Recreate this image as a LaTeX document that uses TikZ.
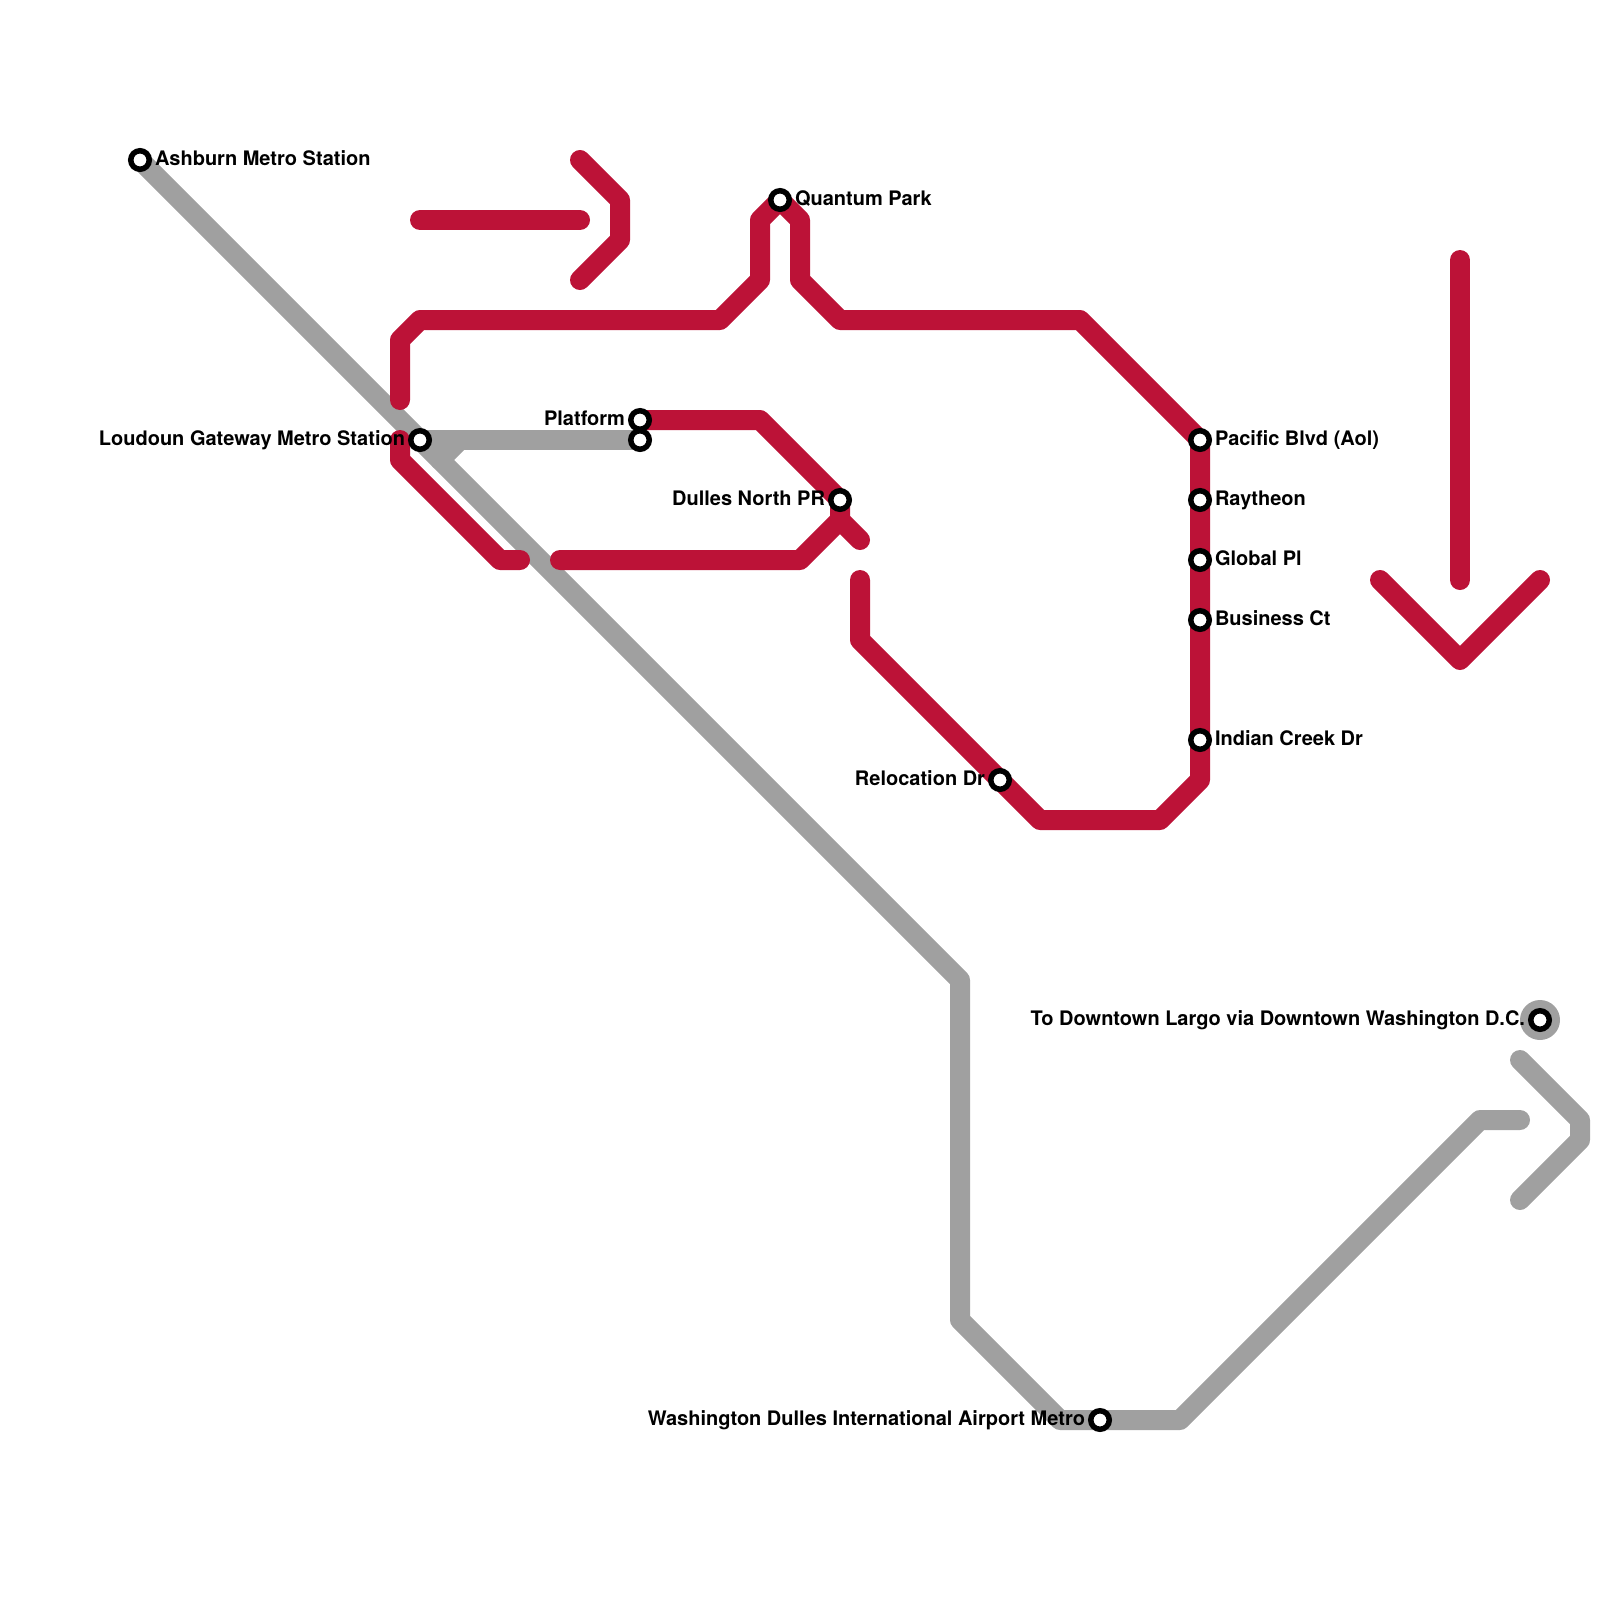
\documentclass[tikz,border=0pt]{standalone}
\usepackage{fontspec}
\setmainfont{TeX Gyre Heros}
\usetikzlibrary{backgrounds,positioning}
\definecolor{redline}{HTML}{BC1237}
\definecolor{silverline}{HTML}{A0A0A0}
\tikzset{
  route/.style={line width=20pt,line cap=round,line join=round},
  redroute/.style={route,draw=redline},
  silverroute/.style={route,draw=silverline},
  station/.style={circle,draw=black,fill=white,line width=5.5pt,minimum size=18.5pt,inner sep=0pt,outer sep=0pt},
  halo/.style={circle,fill=silverline,minimum size=40pt,inner sep=0pt,outer sep=0pt},
  lbl/.style={font=\fontsize{20}{24}\selectfont\bfseries,inner sep=0pt,outer sep=0pt,text height=14pt,text depth=0pt,yshift=2pt}
}
\begin{document}
\begin{tikzpicture}[x=1pt,y=-1pt,node distance=6pt]
\useasboundingbox (0,0) rectangle (1600,1600);
\node[station] (ashburn) at (140,160) {};
\node[station] (quantum) at (780,200) {};
\node[station] (loudoun) at (420,440) {};
\node[station] (platforma) at (640,420) {};
\node[station] (platformb) at (640,440) {};
\node[station] (dulles) at (840,500) {};
\node[station] (pacific) at (1200,440) {};
\node[station] (raytheon) at (1200,500) {};
\node[station] (global) at (1200,560) {};
\node[station] (business) at (1200,620) {};
\node[station] (indian) at (1200,740) {};
\node[station] (relocation) at (1000,780) {};
\node[station] (airport) at (1100,1420) {};
\node[station] (largo) at (1540,1020) {};
\node[lbl,right=6pt of ashburn.center,xshift=9pt] (lashburn) {Ashburn Metro Station};
\node[lbl,right=6pt of quantum.center,xshift=9pt] (lquantum) {Quantum Park};
\node[lbl,left=6pt of loudoun.center,xshift=-9pt] (lloudoun) {Loudoun Gateway Metro Station};
\node[lbl,left=6pt of platforma.center,xshift=-9pt] (lplatform) {Platform};
\node[lbl,left=6pt of dulles.center,xshift=-9pt] (ldulles) {Dulles North PR};
\node[lbl,right=6pt of pacific.center,xshift=9pt] (lpacific) {Pacific Blvd (Aol)};
\node[lbl,right=6pt of raytheon.center,xshift=9pt] (lraytheon) {Raytheon};
\node[lbl,right=6pt of global.center,xshift=9pt] (lglobal) {Global Pl};
\node[lbl,right=6pt of business.center,xshift=9pt] (lbusiness) {Business Ct};
\node[lbl,right=6pt of indian.center,xshift=9pt] (lindian) {Indian Creek Dr};
\node[lbl,left=6pt of relocation.center,xshift=-9pt] (lrelocation) {Relocation Dr};
\node[lbl,left=6pt of airport.center,xshift=-9pt] (lairport) {Washington Dulles International Airport Metro};
\node[lbl,left=6pt of largo.center,xshift=-9pt] (llargo) {To Downtown Largo via Downtown Washington D.C.};
\coordinate (stuba) at (400,400);
\coordinate (stubb) at (400,440);
\coordinate (stubc) at (520,560);
\coordinate (stubd) at (560,560);
\coordinate (stube) at (860,540);
\coordinate (stubf) at (860,580);
\coordinate (fork) at (840,520);
\coordinate (spur) at (440,460);
\coordinate (spurtop) at (460,440);
\coordinate (silverend) at (1520,1120);
\coordinate (arrowa) at (420,220);
\coordinate (arrowb) at (580,220);
\coordinate (arrowc) at (580,160);
\coordinate (arrowd) at (580,280);
\coordinate (arrowe) at (1460,260);
\coordinate (arrowf) at (1460,580);
\coordinate (arrowg) at (1380,580);
\coordinate (arrowh) at (1540,580);
\coordinate (arrowi) at (1520,1060);
\coordinate (arrowj) at (1520,1200);
\begin{pgfonlayer}{background}
\node[halo] (largohalo) at (largo) {};
% silver
\draw[silverroute] (ashburn.center)--(960,980)--(960,1320)--(1060,1420)--(airport.center)--(1180,1420)--(1480,1120)--(silverend);
\draw[silverroute] (loudoun.center)--(platformb.center);
\draw[silverroute] (spur)--(spurtop);
\draw[silverroute] (arrowi)--(1580,1120)--(1580,1140)--(arrowj);
% red
\draw[redroute] (stuba)--(400,340)--(420,320)--(720,320)--(760,280)--(760,220)--(quantum.center)--(800,220)--(800,280)--(840,320)--(1080,320)--(pacific.center)--(raytheon.center)--(global.center)--(business.center)--(indian.center)--(1200,780)--(1160,820)--(1040,820)--(relocation.center)--(860,640)--(stubf);
\draw[redroute] (stubb)--(400,460)--(500,560)--(stubc);
\draw[redroute] (platforma.center)--(760,420)--(dulles.center)--(fork)--(stube);
\draw[redroute] (fork)--(800,560)--(stubd);
\draw[redroute] (arrowa)--(arrowb);
\draw[redroute] (arrowc)--(620,200)--(620,240)--(arrowd);
\draw[redroute] (arrowe)--(arrowf);
\draw[redroute] (arrowg)--(1460,660)--(arrowh);
\end{pgfonlayer}
\end{tikzpicture}
\end{document}
